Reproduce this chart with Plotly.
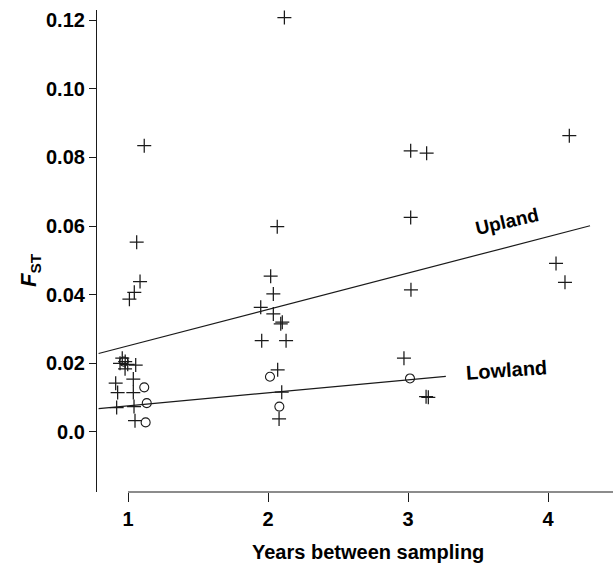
import plotly.graph_objects as go

# ---- data ----
upland_x = [0.959, 0.943, 0.980, 0.998, 1.055, 0.979, 1.038, 0.912, 0.926, 1.038, 0.919, 1.043, 1.050,
            1.116, 1.062, 1.086, 1.045, 1.010,
            2.117, 2.066, 2.019, 2.038, 1.948, 2.038, 2.091, 2.102, 1.955, 2.129, 2.069, 2.098, 2.079,
            3.019, 3.133, 3.019, 3.021, 2.971, 3.129, 3.145,
            4.152, 4.057, 4.121]
upland_y = [0.0215, 0.0200, 0.0205, 0.0197, 0.0195, 0.0184, 0.0154, 0.0142, 0.0115, 0.0115, 0.0071, 0.0074, 0.0033,
            0.0834, 0.0553, 0.0438, 0.0407, 0.0387,
            0.1207, 0.0598, 0.0454, 0.0402, 0.0363, 0.0344, 0.0315, 0.0320, 0.0266, 0.0266, 0.0181, 0.0116, 0.0038,
            0.0819, 0.0812, 0.0625, 0.0414, 0.0215, 0.0103, 0.0101,
            0.0863, 0.0491, 0.0436]

lowland_x = [0.970, 1.116, 1.134, 1.126, 2.014, 2.081, 3.014]
lowland_y = [0.0205, 0.0130, 0.0084, 0.0028, 0.0161, 0.0074, 0.0156]

# regression lines (intercept, slope) and x extent
upland_fit = (0.0145, 0.0106)
upland_fit_x = [0.79, 4.30]
lowland_fit = (0.0038, 0.0038)
lowland_fit_x = [0.79, 3.27]

y_tickvals = [0.0, 0.02, 0.04, 0.06, 0.08, 0.10, 0.12]
y_ticktext = ["0.0", "0.02", "0.04", "0.06", "0.08", "0.10", "0.12"]
x_tickvals = [1, 2, 3, 4]
x_ticktext = ["1", "2", "3", "4"]

FONT = "Liberation Sans, Arial, Helvetica, sans-serif"
INK = "#1a1a1a"

fig = go.Figure()

fig.add_trace(go.Scatter(
    x=upland_fit_x, y=[upland_fit[0] + upland_fit[1] * v for v in upland_fit_x],
    mode="lines", line=dict(color=INK, width=1.2), showlegend=False, hoverinfo="skip"))
fig.add_trace(go.Scatter(
    x=lowland_fit_x, y=[lowland_fit[0] + lowland_fit[1] * v for v in lowland_fit_x],
    mode="lines", line=dict(color=INK, width=1.2), showlegend=False, hoverinfo="skip"))

fig.add_trace(go.Scatter(
    x=upland_x, y=upland_y, mode="markers", name="Upland",
    marker=dict(symbol="cross-thin-open", size=10, color=INK, line=dict(color=INK, width=1.25)),
    showlegend=False))
fig.add_trace(go.Scatter(
    x=lowland_x, y=lowland_y, mode="markers", name="Lowland",
    marker=dict(symbol="circle-open", size=9, color=INK, line=dict(color=INK, width=1.1)),
    showlegend=False))

# x axis line starting at x = 1 (detached axis style)
fig.add_shape(type="line", xref="x", yref="paper", x0=1, x1=4.464, y0=0, y1=0,
              line=dict(color=INK, width=1.2))

tickfont = dict(family=FONT, size=20, color="black", weight="bold")
labfont = dict(family=FONT, size=20, color="black", weight="bold")

fig.update_layout(
    width=613, height=569,
    margin=dict(l=97, r=0, t=10, b=77),
    paper_bgcolor="white", plot_bgcolor="white",
    xaxis=dict(range=[0.7786, 4.464], tickvals=x_tickvals, ticktext=x_ticktext,
               ticks="outside", ticklen=9, tickwidth=1.2, tickcolor=INK,
               showline=False, showgrid=False, zeroline=False, tickfont=tickfont),
    yaxis=dict(range=[-0.01748, 0.12292], tickvals=y_tickvals, ticktext=y_ticktext,
               ticks="outside", ticklen=7, tickwidth=1.2, tickcolor=INK,
               showline=True, linecolor=INK, linewidth=1.2, mirror=False,
               showgrid=False, zeroline=False, tickfont=tickfont),
    annotations=[
        dict(text="Upland", x=3.707, y=0.0612, xref="x", yref="y", showarrow=False,
             textangle=-13, font=dict(family=FONT, size=19, color="black", weight="bold")),
        dict(text="Lowland", x=3.70, y=0.0181, xref="x", yref="y", showarrow=False,
             textangle=-4, font=dict(family=FONT, size=20, color="black", weight="bold")),
        dict(text="Years between sampling", x=0.525, y=0, xref="paper", yref="paper",
             yanchor="middle", yshift=-60, showarrow=False, font=labfont),
        dict(text="<i>F</i><sub>ST</sub>", x=0, y=0.4606, xref="paper", yref="paper",
             xanchor="center", yanchor="middle", xshift=-67, textangle=-90, showarrow=False,
             font=dict(family=FONT, size=22, color="black", weight="bold")),
    ],
)

fig.write_html("out.html")
